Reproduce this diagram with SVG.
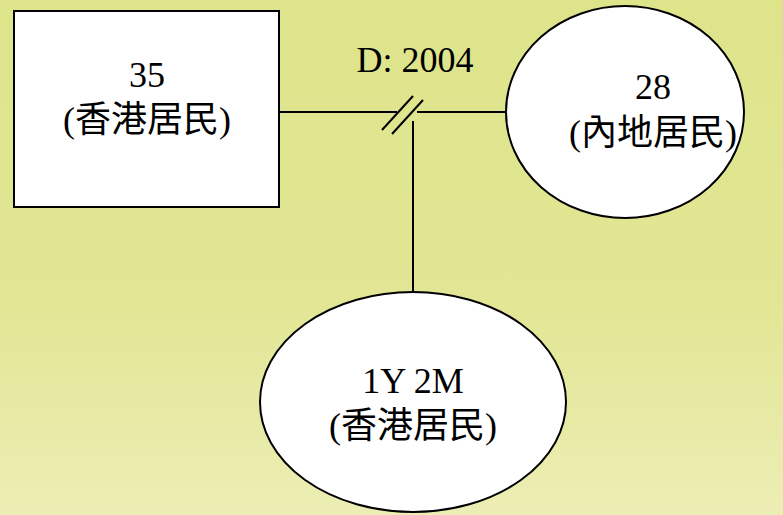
<svg xmlns="http://www.w3.org/2000/svg" width="783" height="515" viewBox="0 0 783 515">
<defs>
<linearGradient id="bg" x1="0" y1="0" x2="0" y2="1">
<stop offset="0" stop-color="#dee48a"/>
<stop offset="0.6" stop-color="#e2e695"/>
<stop offset="1" stop-color="#eceeb4"/>
</linearGradient>
<style>
.shape{fill:#ffffff;stroke:#000000;stroke-width:2}
.ln{stroke:#000000;stroke-width:2;fill:none}
.t{font-family:"Liberation Serif","Noto Sans CJK TC",serif;font-size:36px;fill:#000000;text-anchor:middle}
</style>
</defs>
<rect x="0" y="0" width="783" height="515" fill="url(#bg)"/>
<g id="connectors">
<line class="ln" x1="279" y1="112" x2="397" y2="112"/>
<line class="ln" x1="417" y1="112" x2="506" y2="112"/>
<line class="ln" x1="382" y1="130" x2="413" y2="96"/>
<line class="ln" x1="392" y1="134" x2="423" y2="100"/>
<line class="ln" x1="413" y1="121" x2="413" y2="292"/>
<text class="t" x="415" y="72">D: 2004</text>
</g>
<g id="node-hk-35">
<rect class="shape" x="14" y="11" width="265" height="196"/>
<text class="t" x="147" y="87">35</text>
<text class="t" x="147" y="132">(香港居民)</text>
</g>
<g id="node-mainland-28">
<ellipse class="shape" cx="625" cy="112" rx="119" ry="106"/>
<text class="t" x="653" y="99">28</text>
<text class="t" x="653" y="145">(內地居民)</text>
</g>
<g id="node-child">
<ellipse class="shape" cx="413" cy="402" rx="153" ry="110"/>
<text class="t" x="413" y="393">1Y 2M</text>
<text class="t" x="413" y="438">(香港居民)</text>
</g>
</svg>
